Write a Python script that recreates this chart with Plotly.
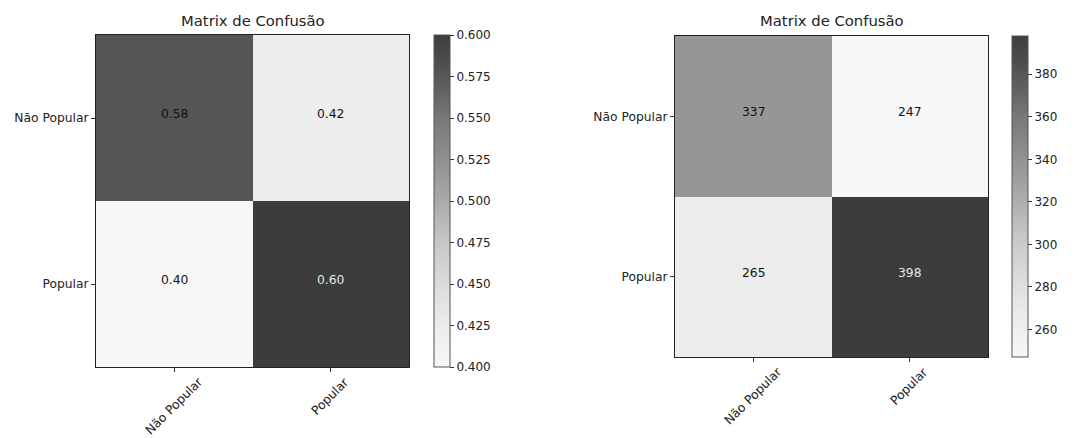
import plotly.graph_objects as go

# ---- data ----
classes = ["Não Popular", "Popular"]
left_values = [[0.577, 0.423],
               [0.400, 0.600]]
right_values = [[337, 247],
                [265, 398]]
left_cbar_ticks = [0.400, 0.425, 0.450, 0.475, 0.500, 0.525, 0.550, 0.575, 0.600]
right_cbar_ticks = [260, 280, 300, 320, 340, 360, 380]
title_text = "Matrix de Confusão"

# Greys colormap, compressed into the #f7f7f7 .. #3c3c3c range
greys = ["#ffffff", "#f0f0f0", "#d9d9d9", "#bdbdbd", "#969696",
         "#737373", "#525252", "#252525", "#000000"]


def remap(h):
    v = int(h[1:3], 16)
    c = round(60 + (247 - 60) * v / 255)
    return f"rgb({c},{c},{c})"


colorscale = [[i / (len(greys) - 1), remap(h)] for i, h in enumerate(greys)]

FONT = "DejaVu Sans"
W, H = 1075, 438

panels = [
    dict(values=left_values, fmt="{:.2f}", ticks=left_cbar_ticks, tickfmt=".3f",
         x0=96, x1=409, y0=35, y1=367, cbx=434),
    dict(values=right_values, fmt="{:d}", ticks=right_cbar_ticks, tickfmt="d",
         x0=675, x1=988, y0=36, y1=357, cbx=1012),
]

fig = go.Figure()
annotations = []
for k, p in enumerate(panels):
    xa = "x" if k == 0 else "x2"
    ya = "y" if k == 0 else "y2"
    vals = p["values"]
    flat = [v for row in vals for v in row]
    vmin, vmax = min(flat), max(flat)
    ytop = 1 - p["y0"] / H
    ybot = 1 - p["y1"] / H
    fig.add_trace(go.Heatmap(
        z=vals, x=[0, 1], y=[0, 1], xaxis=xa, yaxis=ya,
        colorscale=colorscale, zmin=vmin, zmax=vmax,
        hoverinfo="skip",
        colorbar=dict(
            x=p["cbx"] / W, xanchor="left", xpad=0, ypad=0,
            y=(ytop + ybot) / 2, yanchor="middle",
            lenmode="pixels", len=p["y1"] - p["y0"],
            thickness=16, outlinewidth=1, outlinecolor="#555",
            tickvals=p["ticks"], tickformat=p["tickfmt"],
            ticks="outside", ticklen=4, tickcolor="#333",
            tickfont=dict(family=FONT, size=12, color="#222"),
        ),
    ))
    dom_x = [p["x0"] / W, p["x1"] / W]
    axx = dict(domain=dom_x, range=[-0.5, 1.5], tickvals=[0, 1],
               ticktext=["", ""], ticks="outside", ticklen=4, tickcolor="#333",
               showline=True, linecolor="#222", linewidth=1, mirror=True,
               showgrid=False, zeroline=False, fixedrange=True)
    axy = dict(domain=[ybot, ytop], range=[1.5, -0.5], tickvals=[0, 1],
               ticktext=classes, ticks="outside", ticklen=4, tickcolor="#333",
               tickfont=dict(family=FONT, size=12.3, color="#222"),
               showline=True, linecolor="#222", linewidth=1, mirror=True,
               showgrid=False, zeroline=False, fixedrange=True)
    if k == 0:
        fig.update_layout(xaxis=axx, yaxis=axy)
    else:
        axx["anchor"] = "y2"
        axy["anchor"] = "x2"
        fig.update_layout(xaxis2=axx, yaxis2=axy)

    # title
    annotations.append(dict(text=title_text, xref="paper", yref="paper",
                            x=(dom_x[0] + dom_x[1]) / 2, y=1 - 21 / H,
                            xanchor="center", yanchor="middle", showarrow=False,
                            font=dict(family=FONT, size=14.8, color="#222")))
    # rotated x tick labels (centered on tick)
    for j, c in enumerate(classes):
        annotations.append(dict(text=c, xref=xa, yref="paper", x=j,
                                y=ybot - 5 / H, xanchor="center", yanchor="top",
                                textangle=-45, showarrow=False,
                                font=dict(family=FONT, size=12.3, color="#222")))
    # cell values
    for i, row in enumerate(vals):
        for j, v in enumerate(row):
            color = "#e6e6e6" if v == vmax else "#111111"
            annotations.append(dict(text=p["fmt"].format(v), xref=xa, yref=ya,
                                    x=j, y=i, yshift=4, showarrow=False,
                                    font=dict(family=FONT, size=12.3, color=color)))

fig.update_layout(width=W, height=H, margin=dict(l=0, r=0, t=0, b=0),
                  paper_bgcolor="white", plot_bgcolor="white",
                  annotations=annotations, showlegend=False)

fig.write_html("out.html", config={"displayModeBar": False},
               post_script="document.body.style.margin='0';document.body.style.overflow='hidden';")
